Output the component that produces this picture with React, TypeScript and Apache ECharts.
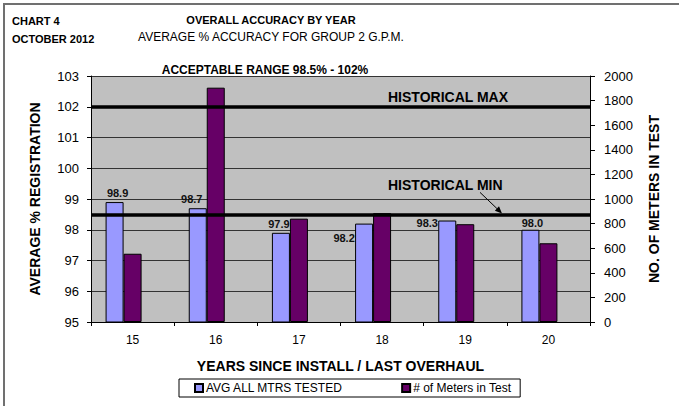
import React, { useEffect, useRef } from "react";
import * as echarts from "echarts";

const categories = ["15", "16", "17", "18", "19", "20"];
const avgAccuracy = [98.9, 98.7, 97.9, 98.2, 98.3, 98.0];
const meterCounts = [555, 1905, 840, 885, 795, 640];
const historicalMax = 102;
const historicalMin = 98.5;
const leftAxis = { min: 95, max: 103, interval: 1 };
const rightAxis = { min: 0, max: 2000, interval: 200 };

const FONT = 'Arial, "Liberation Sans", sans-serif';
const labelOffsets = [
  [3, 0],
  [-6, 0],
  [-2, 1],
  [-20, 24],
  [-20, 12],
  [2, 3],
];

export default function App() {
  const ref = useRef<HTMLDivElement>(null);
  useEffect(() => {
    if (!ref.current) return;
    const chart = echarts.init(ref.current, null, { renderer: "svg" });
    const titleBase = { padding: 0 };
    const option: any = {
      animation: false,
      backgroundColor: "#ffffff",
      textStyle: { fontFamily: FONT },
      title: [
        { ...titleBase, text: "CHART 4", left: 12, top: 15, textStyle: { fontSize: 11, fontWeight: "bold", color: "#000", fontFamily: FONT } },
        { ...titleBase, text: "OCTOBER 2012", left: 12, top: 33, textStyle: { fontSize: 11, fontWeight: "bold", color: "#000", fontFamily: FONT } },
        { ...titleBase, text: "OVERALL ACCURACY BY YEAR", left: 271, textAlign: "center", top: 14, textStyle: { fontSize: 11, fontWeight: "bold", color: "#000", fontFamily: FONT } },
        { ...titleBase, text: "AVERAGE % ACCURACY FOR GROUP 2 G.P.M.", left: 271, textAlign: "center", top: 31, textStyle: { fontSize: 12, fontWeight: "normal", color: "#000", fontFamily: FONT } },
        { ...titleBase, text: "ACCEPTABLE RANGE 98.5% - 102%", left: 265, textAlign: "center", top: 64, textStyle: { fontSize: 12, fontWeight: "bold", color: "#000", fontFamily: FONT } },
      ],
      legend: {
        data: ["AVG ALL MTRS TESTED", "# of Meters in Test"],
        left: 179,
        top: 379,
        orient: "horizontal",
        itemWidth: 8,
        itemHeight: 8,
        itemGap: 58,
        icon: "rect",
        padding: [3, 9, 3, 15],
        borderColor: "#000",
        borderWidth: 1,
        textStyle: { fontSize: 12, color: "#000", fontFamily: FONT, padding: [0, 0, 0, -2] },
      },
      grid: { left: 91, right: 89, top: 76, bottom: 84, show: true, backgroundColor: "#c0c0c0", borderWidth: 0 },
      xAxis: {
        type: "category",
        data: categories,
        name: "YEARS SINCE INSTALL / LAST OVERHAUL",
        nameLocation: "middle",
        nameGap: 37,
        nameTextStyle: { fontSize: 14, fontWeight: "bold", color: "#000", fontFamily: FONT },
        axisLine: { lineStyle: { color: "#000", width: 1 } },
        axisTick: { show: true, length: 4, lineStyle: { color: "#000" } },
        axisLabel: { fontSize: 12, color: "#000", margin: 12, fontFamily: FONT },
      },
      yAxis: [
        {
          type: "value",
          min: leftAxis.min,
          max: leftAxis.max,
          interval: leftAxis.interval,
          name: "AVERAGE % REGISTRATION",
          nameLocation: "middle",
          nameRotate: 90,
          nameGap: 49,
          nameTextStyle: { fontSize: 14, fontWeight: "bold", color: "#000", fontFamily: FONT },
          axisLine: { show: true, lineStyle: { color: "#000" } },
          axisTick: { show: true, length: 4, lineStyle: { color: "#000" } },
          axisLabel: { fontSize: 13, color: "#000", margin: 12, fontFamily: FONT },
          splitLine: { show: true, lineStyle: { color: "#333333", width: 1 } },
        },
        {
          type: "value",
          min: rightAxis.min,
          max: rightAxis.max,
          interval: rightAxis.interval,
          name: "NO. OF METERS IN TEST",
          nameLocation: "middle",
          nameRotate: 90,
          nameGap: 57,
          nameTextStyle: { fontSize: 14, fontWeight: "bold", color: "#000", fontFamily: FONT },
          axisLine: { show: true, lineStyle: { color: "#000" } },
          axisTick: { show: true, length: 5, lineStyle: { color: "#000" } },
          axisLabel: { fontSize: 13, color: "#000", margin: 14, fontFamily: FONT, formatter: (v: number) => String(v) },
          splitLine: { show: false },
        },
      ],
      series: [
        {
          name: "AVG ALL MTRS TESTED",
          type: "bar",
          yAxisIndex: 0,
          barWidth: 18,
          barGap: "0%",
          data: avgAccuracy.map((v, i) => ({
            value: v,
            label: { offset: labelOffsets[i] },
          })),
          itemStyle: { color: "#9999ff", borderColor: "#000", borderWidth: 1 },
          label: {
            show: true,
            position: "top",
            distance: 4,
            fontSize: 11,
            fontWeight: "bold",
            color: "#111",
            fontFamily: FONT,
            formatter: (p: any) => Number(p.value).toFixed(1),
          },
          markLine: {
            silent: true,
            symbol: "none",
            label: { show: false },
            lineStyle: { color: "#000", width: 3.5, type: "solid" },
            data: [{ yAxis: historicalMax }, { yAxis: historicalMin }],
          },
        },
        {
          name: "# of Meters in Test",
          type: "bar",
          yAxisIndex: 1,
          barWidth: 18,
          barGap: "0%",
          data: meterCounts,
          itemStyle: { color: "#660066", borderColor: "#000", borderWidth: 1 },
        },
        {
          name: "spacer",
          type: "bar",
          yAxisIndex: 1,
          barWidth: 18,
          barGap: "0%",
          silent: true,
          data: categories.map(() => null),
        },
      ],
    };
    chart.setOption(option);

    const yMax = chart.convertToPixel({ yAxisIndex: 0 }, historicalMax) as number;
    const yMin = chart.convertToPixel({ yAxisIndex: 0 }, historicalMin) as number;
    const labelX = 388;
    const ax1 = 480, ay1 = yMin - 22;
    const ax2 = 502, ay2 = yMin - 1;
    const ang = Math.atan2(ay2 - ay1, ax2 - ax1);
    const hl = 7, hw = 3;
    const bx = ax2 - hl * Math.cos(ang), by = ay2 - hl * Math.sin(ang);
    const px = -Math.sin(ang) * hw, py = Math.cos(ang) * hw;

    chart.setOption({
      graphic: [
        {
          type: "rect",
          shape: { x: 4, y: 4, width: 720, height: 440 },
          style: { fill: "none", stroke: "#707070", lineWidth: 2 },
          silent: true,
        },
        {
          type: "text",
          x: labelX,
          y: yMax - 10,
          style: { text: "HISTORICAL MAX", font: `bold 14px ${FONT}`, fill: "#000", verticalAlign: "middle", align: "left" },
          z: 10,
        },
        {
          type: "text",
          x: labelX,
          y: yMin - 29,
          style: { text: "HISTORICAL MIN", font: `bold 14px ${FONT}`, fill: "#000", verticalAlign: "middle", align: "left" },
          z: 10,
        },
        {
          type: "line",
          shape: { x1: ax1, y1: ay1, x2: bx, y2: by },
          style: { stroke: "#000", lineWidth: 1 },
          z: 10,
        },
        {
          type: "polygon",
          shape: { points: [[ax2, ay2], [bx + px, by + py], [bx - px, by - py]] },
          style: { fill: "#000" },
          z: 10,
        },
      ],
    });

    return () => chart.dispose();
  }, []);
  return <div ref={ref} style={{ position: "fixed", left: 0, top: 0, width: 679, height: 406 }} />;
}
